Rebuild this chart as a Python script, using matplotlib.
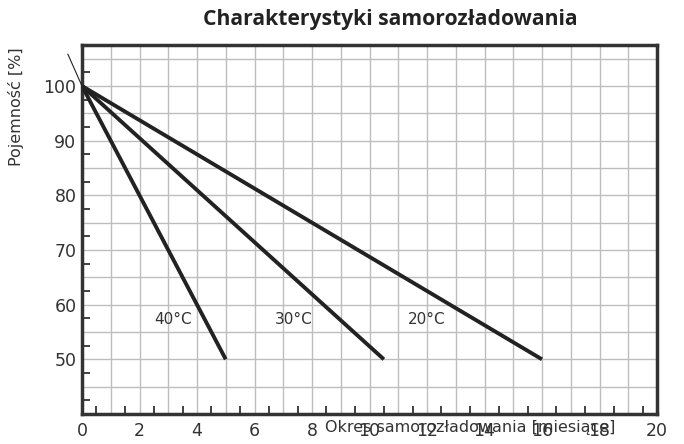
import matplotlib
matplotlib.use("Agg")
import matplotlib.pyplot as plt
from matplotlib.ticker import FixedLocator, FuncFormatter

# Data
months_40 = [0, 5]
cap_40 = [100, 50]
months_30 = [0, 10.5]
cap_30 = [100, 50]
months_20 = [0, 16]
cap_20 = [100, 50]
labels = ["40°C", "30°C", "20°C"]
label_x = [3.17, 7.37, 12.0]
label_y = [57.2, 57.2, 57.2]
x_ticks = list(range(0, 21, 2))
y_ticks = [50, 60, 70, 80, 90, 100]
stray_x = [-0.49, 0]
stray_y = [105.8, 100]

fig = plt.figure(figsize=(6.84, 4.44), dpi=100)
ax = fig.add_axes([82/684, 1-414/444, (657-82)/684, (414-45)/444])

line_color = "#222222"
for xs, ys in [(months_40, cap_40), (months_30, cap_30), (months_20, cap_20)]:
    ax.plot(xs, ys, color=line_color, lw=2.8, solid_capstyle="butt", zorder=3)
ax.plot(stray_x, stray_y, color=line_color, lw=0.8, clip_on=False, zorder=3)

for t, x, y in zip(labels, label_x, label_y):
    ax.text(x, y, t, ha="center", va="center", fontsize=11, color="#333333",
            family="DejaVu Sans", zorder=4)

ax.set_xlim(0, 20)
ax.set_ylim(40, 107.5)

ax.xaxis.set_major_locator(FixedLocator(list(range(0, 21))))
ax.xaxis.set_minor_locator(FixedLocator([i + 0.5 for i in range(20)]))
ax.xaxis.set_major_formatter(FuncFormatter(
    lambda v, p: str(int(round(v))) if int(round(v)) in x_ticks else ""))
ax.yaxis.set_major_locator(FixedLocator(list(range(45, 106, 5))))
ax.yaxis.set_minor_locator(FixedLocator([42.5 + 5*i for i in range(13)]))
ax.yaxis.set_major_formatter(FuncFormatter(
    lambda v, p: str(int(round(v))) if int(round(v)) in y_ticks else ""))

ax.tick_params(axis="both", which="major", length=0, labelsize=12.5,
               labelcolor="#333333")
ax.tick_params(axis="x", which="major", pad=6)
ax.tick_params(axis="y", which="major", pad=4)
ax.tick_params(axis="both", which="minor", direction="in", length=6,
               width=1.3, color="#333333")

ax.grid(True, which="major", color="#bdbdbd", lw=1.0, zorder=0)
ax.set_axisbelow(True)

for s in ax.spines.values():
    s.set_linewidth(2.5)
    s.set_color("#333333")

fig.text(390/684, 1-20/444, "Charakterystyki samorozładowania",
         ha="center", va="center", fontsize=15.2, fontweight="bold",
         family="Open Sans", color="#222222")
fig.text(16/684, 1-107/444, "Pojemność [%]", rotation=90, ha="center",
         va="center", fontsize=11.5, color="#333333", family="DejaVu Sans")
fig.text(470/684, 1-427/444, "Okres samorozładowania [miesiące]",
         ha="center", va="center", fontsize=11.5, color="#333333",
         family="DejaVu Sans")

fig.savefig("out.png", dpi=100)
